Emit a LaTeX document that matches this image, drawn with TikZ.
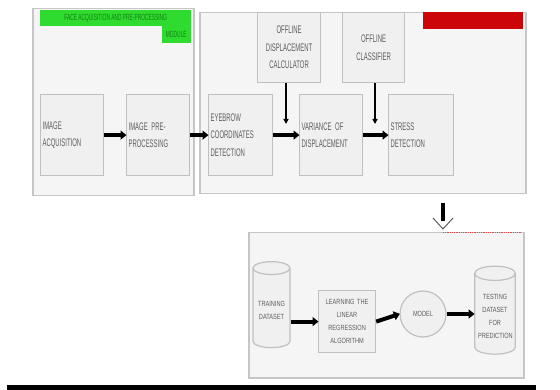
\documentclass[tikz,border=0pt]{standalone}
\usepackage{fontspec}
\setmainfont{Liberation Sans}
\newfontfamily\condA[FakeStretch=0.54]{Liberation Sans}
\newfontfamily\condB[FakeStretch=0.75]{Liberation Sans}
\usetikzlibrary{arrows.meta,shapes.geometric,calc}
\definecolor{grpfill}{HTML}{F5F5F5}
\definecolor{grpline}{HTML}{C6C6C6}
\definecolor{boxfill}{HTML}{F0F0F0}
\definecolor{boxline}{HTML}{C0C0C0}
\definecolor{txt}{HTML}{5E5E5E}
\definecolor{grn}{HTML}{2EDB2E}
\definecolor{dgrn}{HTML}{178017}
\definecolor{rd}{HTML}{CC0508}
\tikzset{
  grp/.style={draw=grpline, fill=grpfill, line width=1.5pt, anchor=north west, inner sep=0pt},
  topbox/.style={draw=boxline, fill=boxfill, line width=1.2pt, anchor=north west,
     inner sep=2pt, align=left, text=txt, font=\condA\fontsize{11}{17.5}\selectfont},
  midbox/.style={topbox, align=center},
  lowbox/.style={draw=boxline, fill=boxfill, line width=1.2pt, text=txt, align=center,
     font=\condB\fontsize{7.5}{13}\selectfont},
  fat/.style={line width=4pt, -{Triangle[length=6pt,width=9pt]}, shorten >=-0.5pt},
  thin/.style={line width=1.6pt, -{Triangle[length=5pt,width=5pt]}},
}
\begin{document}
\begin{tikzpicture}[x=1pt,y=-1pt]
\useasboundingbox (0,0) rectangle (560,390);
\fill[white] (0,0) rectangle (560,390);

% group boxes
\node[grp, minimum width=161pt, minimum height=187pt] (g1) at (32,8) {};
\node[grp, minimum width=326pt, minimum height=181pt] (g2) at (199,12) {};
\node[grp, minimum width=275pt, minimum height=145pt] (g3) at (248,232) {};

% module labels
\node[fill=grn, anchor=north west, minimum width=151pt, minimum height=16pt, inner sep=1pt,
  text=dgrn, font=\condA\fontsize{9}{9}\selectfont] (gl1) at (40,10) {FACE ACQUISITION AND PRE-PROCESSING};
\node[fill=grn, anchor=north east, minimum width=29pt, minimum height=17pt, inner sep=1pt,
  text=dgrn, font=\condA\fontsize{9}{9}\selectfont] (gl2) at (191,26) {MODULE};
\node[fill=rd, anchor=north west, minimum width=100pt, minimum height=17pt, inner sep=0pt] (rl) at (423,12) {};

% top row
\node[topbox, minimum width=63pt, minimum height=81pt, text width=59pt] (ia) at (40,94) {IMAGE\\ACQUISITION};
\node[topbox, minimum width=63pt, minimum height=81pt, text width=59pt] (ip) at (126,94) {IMAGE PRE-\\PROCESSING};
\node[topbox, minimum width=64pt, minimum height=81pt, text width=60pt] (ey) at (208,94) {EYEBROW\\COORDINATES\\DETECTION};
\node[topbox, minimum width=63pt, minimum height=81pt, text width=59pt] (vd) at (299,94) {VARIANCE OF\\DISPLACEMENT};
\node[topbox, minimum width=65pt, minimum height=81pt, text width=61pt] (sd) at (388,94) {STRESS\\DETECTION};
\node[midbox, minimum width=63pt, minimum height=70pt, text width=59pt] (od) at (257,12) {OFFLINE\\DISPLACEMENT\\CALCULATOR};
\node[midbox, minimum width=62pt, minimum height=70pt, text width=58pt] (oc) at (342,12) {OFFLINE\\CLASSIFIER};

\draw[fat] (ia.east) -- (ip.west);
\draw[fat] (ip.east) -- (ey.west);
\draw[fat] (ey.east) -- (vd.west);
\draw[fat] (vd.east) -- (sd.west);

\coordinate (v1) at (286,124);
\coordinate (v2) at (375,124);
\draw[thin] (od.south -| v1) -- (v1);
\draw[thin] (oc.south -| v2) -- (v2);

% connection to bottom module
\coordinate (d1) at (443,203);
\coordinate (d2) at (443,221);
\coordinate (d3) at (443,229);
\draw[black, line width=4pt] (d1) -- (d2);
\draw[draw=txt, line width=1pt] ($(d3)+(-10,-11)$) -- (d3) -- ($(d3)+(10,-11)$);
\draw[rd!70, line width=0.8pt, densely dotted] (443,232) -- (522,232);

% bottom row
\node[lowbox, cylinder, shape border rotate=90, aspect=0.35, minimum width=37pt, minimum height=86pt, text width=30pt] (tr) at (271.5,310) {TRAINING\\DATASET};
\node[lowbox, anchor=north west, minimum width=57pt, minimum height=62pt, text width=53pt, inner sep=2pt] (lr) at (318,290) {LEARNING THE\\LINEAR\\REGRESSION\\ALGORITHM};
\node[lowbox, circle, minimum size=46pt, inner sep=0pt] (md) at (423,314) {MODEL};
\node[lowbox, cylinder, shape border rotate=90, aspect=0.35, minimum width=40pt, minimum height=88pt, text width=34pt] (ts) at (495,316) {TESTING\\DATASET\\FOR\\PREDICTION};

\draw[fat] (tr.east |- lr.west) -- (lr.west);
\draw[fat] (lr.east) -- (md.west);
\draw[fat] (md.east) -- (ts.west |- md.east);

% bottom rule
\fill[black] (7,385) rectangle (536,390);
\end{tikzpicture}
\end{document}
